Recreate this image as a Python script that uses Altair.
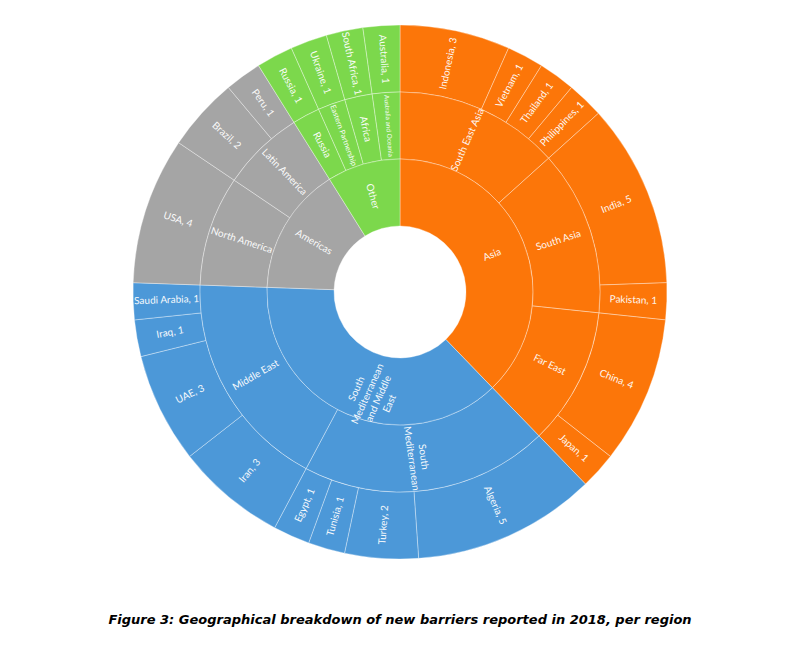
import altair as alt
import pandas as pd

# ---- data ----
regions = ["Asia", "South Mediterranean and Middle East", "Americas", "Other"]
region_labels = ["Asia", "South\nMediterranean\nand Middle\nEast", "Americas", "Other"]
region_colors = ["#FC7609", "#4C98D8", "#A5A5A5", "#7CD84C"]

subregions = ["South East Asia", "South Asia", "Far East",
              "South Mediterranean", "Middle East",
              "North America", "Latin America",
              "Russia", "Eastern Partnership", "Africa", "Australia and Oceania"]
subregion_labels = ["South East Asia", "South Asia", "Far East",
                    "South\nMediterranean", "Middle East",
                    "North America", "Latin America",
                    "Russia", "Eastern Partnership", "Africa", "Australia and Oceania"]
subregion_region = ["Asia", "Asia", "Asia",
                    "South Mediterranean and Middle East", "South Mediterranean and Middle East",
                    "Americas", "Americas",
                    "Other", "Other", "Other", "Other"]
subregion_fontsize = [10, 10, 10, 10, 10, 10, 10, 10, 7.5, 10, 6.5]

countries = ["Indonesia", "Vietnam", "Thailand", "Philippines", "India", "Pakistan",
             "China", "Japan", "Algeria", "Turkey", "Tunisia", "Egypt",
             "Iran", "UAE", "Iraq", "Saudi Arabia", "USA", "Brazil", "Peru",
             "Russia", "Ukraine", "South Africa", "Australia"]
country_values = [3, 1, 1, 1, 5, 1, 4, 1, 5, 2, 1, 1, 3, 3, 1, 1, 4, 2, 1, 1, 1, 1, 1]
country_subregion = ["South East Asia"] * 4 + ["South Asia"] * 2 + ["Far East"] * 2 + \
                    ["South Mediterranean"] * 4 + ["Middle East"] * 4 + \
                    ["North America", "Latin America", "Latin America",
                     "Russia", "Eastern Partnership", "Africa", "Australia and Oceania"]

title_text = "Figure 3: Geographical breakdown of new barriers reported in 2018, per region"

# ---- build the node table from the arrays ----
total = sum(country_values)
sub_to_region = dict(zip(subregions, subregion_region))
rows = []

def rot_for(mid):
    deg = mid / total * 360.0
    r = deg - 90.0
    if r > 90:
        r -= 180.0
    return r % 360

cum = 0
for c, v, s in zip(countries, country_values, country_subregion):
    rows.append(dict(name=c, label=f"{c}, {v}", region=sub_to_region[s], level=2,
                     start=cum, end=cum + v, fs=10, rpos=2.5))
    cum += v

cum = 0
for s, lab, reg, fs in zip(subregions, subregion_labels, subregion_region, subregion_fontsize):
    v = sum(val for val, ss in zip(country_values, country_subregion) if ss == s)
    rows.append(dict(name=s, label=lab, region=reg, level=1, start=cum, end=cum + v,
                     fs=fs, rpos=1.5))
    cum += v

cum = 0
for r, lab in zip(regions, region_labels):
    v = sum(val for val, ss in zip(country_values, country_subregion) if sub_to_region[ss] == r)
    rows.append(dict(name=r, label=lab, region=r, level=0, start=cum, end=cum + v,
                     fs=10, rpos=0.6 if "\n" in lab else 0.5))
    cum += v

df = pd.DataFrame(rows)
df["level2"] = df["level"] + 1
df["mid"] = (df["start"] + df["end"]) / 2
df["rot"] = df["mid"].apply(rot_for)

theta_scale = alt.Scale(domain=[0, total], range=[0, 6.283185307179586])
radius_scale = alt.Scale(type="linear", domain=[0, 3], range=[66, 267], zero=False)
color_scale = alt.Scale(domain=regions, range=region_colors)

cx = alt.value(392)
cy = alt.value(284)

arcs = alt.Chart().mark_arc(stroke="white", strokeWidth=1, strokeOpacity=0.35).encode(
    x=cx, y=cy,
    theta=alt.Theta("start:Q", scale=theta_scale),
    theta2="end:Q",
    radius=alt.Radius("level:Q", scale=radius_scale),
    radius2="level2:Q",
    color=alt.Color("region:N", scale=color_scale, legend=None),
)

texts = alt.Chart().mark_text(font="Lato", color="white", align="center",
                              baseline="middle", lineBreak="\n", opacity=0.95).encode(
    x=cx, y=cy,
    theta=alt.Theta("mid:Q", scale=theta_scale),
    radius=alt.Radius("rpos:Q", scale=radius_scale),
    text="label:N",
    angle=alt.Angle("rot:Q", scale=None),
    size=alt.Size("fs:Q", scale=None),
)

chart = alt.layer(arcs, texts, data=df).properties(
    width=776, height=568, padding=0,
    title=alt.TitleParams(text=title_text, orient="bottom", anchor="middle",
                          font="DejaVu Sans", fontSize=13, fontStyle="italic",
                          fontWeight="bold", color="black", offset=38, dx=4),
).configure_view(stroke=None)

chart.save("out.html", embed_options={"renderer": "svg", "actions": False})
